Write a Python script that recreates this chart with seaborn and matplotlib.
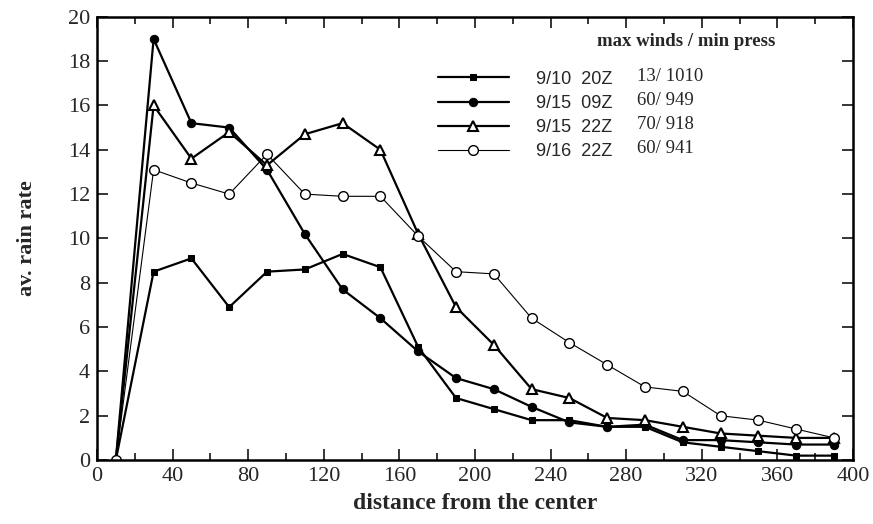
import matplotlib
matplotlib.use("Agg")
import matplotlib.pyplot as plt
import seaborn as sns
import pandas as pd
from matplotlib.ticker import MultipleLocator

# distance from the center (bin centres)
distance = [10, 30, 50, 70, 90, 110, 130, 150, 170, 190,
            210, 230, 250, 270, 290, 310, 330, 350, 370, 390]

rain_0910_20z = [0.0, 8.5, 9.1, 6.9, 8.5, 8.6, 9.3, 8.7, 5.1, 2.8,
                 2.3, 1.8, 1.8, 1.5, 1.5, 0.8, 0.6, 0.4, 0.2, 0.2]
rain_0915_09z = [0.0, 19.0, 15.2, 15.0, 13.1, 10.2, 7.7, 6.4, 4.9, 3.7,
                 3.2, 2.4, 1.7, 1.5, 1.6, 0.9, 0.9, 0.8, 0.7, 0.7]
rain_0915_22z = [0.0, 16.0, 13.6, 14.8, 13.3, 14.7, 15.2, 14.0, 10.2, 6.9,
                 5.2, 3.2, 2.8, 1.9, 1.8, 1.5, 1.2, 1.1, 1.0, 1.0]
rain_0916_22z = [0.0, 13.1, 12.5, 12.0, 13.8, 12.0, 11.9, 11.9, 10.1, 8.5,
                 8.4, 6.4, 5.3, 4.3, 3.3, 3.1, 2.0, 1.8, 1.4, 1.0]

labels = ["9/10  20Z", "9/15  09Z", "9/15  22Z", "9/16  22Z"]
winds_press = ["13/ 1010", "60/ 949", "70/ 918", "60/ 941"]

sns.set_theme(style="ticks")
plt.rcParams["font.family"] = ["Liberation Serif", "DejaVu Serif"]

fig = plt.figure(figsize=(8.73, 5.24), dpi=100)
ax = fig.add_axes([0.111, 0.122, 0.866, 0.846])

series = [rain_0910_20z, rain_0915_09z, rain_0915_22z, rain_0916_22z]
styles = [
    dict(marker="s", markersize=4, lw=1.6, markerfacecolor="black"),
    dict(marker="o", markersize=6, lw=1.6, markerfacecolor="black"),
    dict(marker="^", markersize=6.5, lw=1.6, markerfacecolor="white", markeredgewidth=1.5),
    dict(marker="o", markersize=7, lw=0.8, markerfacecolor="white", markeredgewidth=1.0),
]

for vals, lab, st in zip(series, labels, styles):
    df = pd.DataFrame({"distance": distance, "rain": vals})
    sns.lineplot(data=df, x="distance", y="rain", ax=ax, color="black",
                 markeredgecolor="black", label=lab, **st)

ax.set_xlim(0, 400)
ax.set_ylim(0, 20)
ax.xaxis.set_major_locator(MultipleLocator(40))
ax.xaxis.set_minor_locator(MultipleLocator(20))
ax.yaxis.set_major_locator(MultipleLocator(2))
ax.tick_params(which="both", direction="in", top=True, right=True,
               labelsize=16, width=1.3, pad=5)
ax.tick_params(which="major", length=8)
ax.tick_params(which="minor", length=5)
for sp in ax.spines.values():
    sp.set_linewidth(1.8)
    sp.set_color("black")

ax.set_xlabel("distance from the center", fontsize=17, fontweight="bold", labelpad=5)
ax.set_ylabel("av. rain rate", fontsize=16, fontweight="bold", labelpad=22)

leg = ax.legend(loc="upper left", bbox_to_anchor=(0.43, 0.915), frameon=False,
                handlelength=3.9, handletextpad=1.5, labelspacing=0.4,
                prop={"family": "Liberation Sans", "size": 13})

ax.text(0.78, 0.945, "max winds / min press", transform=ax.transAxes,
        ha="center", va="center", fontsize=13.5, fontweight="bold")
row_y = [0.865, 0.81, 0.756, 0.702]
for wp, yy in zip(winds_press, row_y):
    ax.text(0.714, yy, wp, transform=ax.transAxes, ha="left", va="center", fontsize=13.5)

fig.savefig("out.png", dpi=100)
